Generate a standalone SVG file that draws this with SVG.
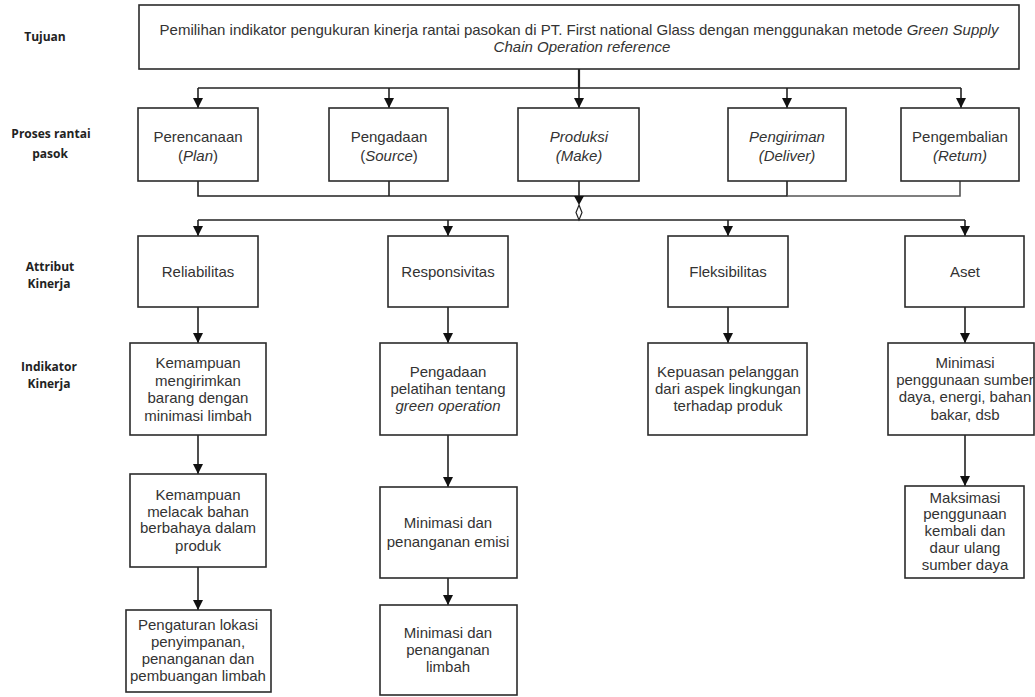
<svg xmlns="http://www.w3.org/2000/svg" width="1035" height="697" viewBox="0 0 1035 697">
<style>
.box{fill:#fff;stroke:#2b2b2b;stroke-width:1.6}
.t{font-family:"Liberation Sans",Arial,sans-serif;font-size:15px;fill:#333;text-anchor:middle}
.i{font-style:italic}
.lab{font-family:"Open Sans","DejaVu Sans",sans-serif;font-size:12px;font-weight:bold;fill:#222;text-anchor:middle}
.c{fill:none;stroke:#222;stroke-width:1.6}
</style>
<defs>
<marker id="ar" viewBox="0 0 10 10" refX="10" refY="5" markerWidth="10" markerHeight="10" markerUnits="userSpaceOnUse" orient="auto">
<path d="M0,0 L10,5 L0,10 Z" fill="#111"/>
</marker>
</defs>
<rect width="1035" height="697" fill="#fff"/>

<g id="labels">
<text class="lab" x="45" y="41">Tujuan</text>
<text class="lab" x="51" y="138">Proses rantai</text>
<text class="lab" x="50" y="158">pasok</text>
<text class="lab" x="50" y="271">Attribut</text>
<text class="lab" x="49" y="288">Kinerja</text>
<text class="lab" x="49" y="371">Indikator</text>
<text class="lab" x="49" y="388">Kinerja</text>
</g>

<g id="connectors">
<path class="c" d="M579,69 V88" style="stroke-width:2.2"/>
<path class="c" d="M198,88 H961"/>
<path class="c" d="M198,88 V108" marker-end="url(#ar)"/>
<path class="c" d="M389,88 V108" marker-end="url(#ar)"/>
<path class="c" d="M579,88 V108" marker-end="url(#ar)"/>
<path class="c" d="M787,88 V108" marker-end="url(#ar)"/>
<path class="c" d="M961,88 V108" marker-end="url(#ar)"/>
<path class="c" d="M198,181 V196 H579"/>
<path class="c" d="M389,181 V196"/>
<path class="c" d="M579,181 V196"/>
<path class="c" d="M787,181 V196 H579"/>
<path class="c" d="M960,181 V196 H787" style="stroke:#555"/>
<path d="M574,196 L584,196 L579,205 Z" fill="#111"/>
<path d="M579,205 L582,212.5 L579,220 L576,212.5 Z" fill="#fff" stroke="#222" stroke-width="1.2"/>
<path class="c" d="M198,220 H965"/>
<path class="c" d="M198,220 V236" marker-end="url(#ar)"/>
<path class="c" d="M448,220 V236" marker-end="url(#ar)"/>
<path class="c" d="M728,220 V236" marker-end="url(#ar)"/>
<path class="c" d="M965,220 V236" marker-end="url(#ar)"/>
<path class="c" d="M198,307 V343" marker-end="url(#ar)"/>
<path class="c" d="M448,307 V343" marker-end="url(#ar)"/>
<path class="c" d="M728,307 V343" marker-end="url(#ar)"/>
<path class="c" d="M965,307 V343" marker-end="url(#ar)"/>
<path class="c" d="M198,435 V474" marker-end="url(#ar)"/>
<path class="c" d="M198,567 V610" marker-end="url(#ar)"/>
<path class="c" d="M448,435 V487" marker-end="url(#ar)"/>
<path class="c" d="M448,578 V605" marker-end="url(#ar)"/>
<path class="c" d="M965,435 V486" marker-end="url(#ar)"/>
</g>

<g id="tujuan">
<rect class="box" x="139" y="5" width="880" height="64"/>
<text class="t" x="579" y="35">Pemilihan indikator pengukuran kinerja rantai pasokan di PT. First national Glass dengan menggunakan metode <tspan class="i">Green Supply</tspan></text>
<text class="t i" x="582" y="52">Chain Operation reference</text>
</g>

<g id="plan">
<rect class="box" x="138" y="108" width="120" height="73"/>
<text class="t" x="198" y="142">Perencanaan</text>
<text class="t" x="198" y="161">(<tspan class="i">Plan</tspan>)</text>
</g>
<g id="source">
<rect class="box" x="329" y="108" width="119" height="73"/>
<text class="t" x="389" y="142">Pengadaan</text>
<text class="t" x="389" y="161">(<tspan class="i">Source</tspan>)</text>
</g>
<g id="make">
<rect class="box" x="518" y="108" width="121" height="73"/>
<text class="t i" x="579" y="142">Produksi</text>
<text class="t i" x="579" y="161">(Make)</text>
</g>
<g id="deliver">
<rect class="box" x="728" y="108" width="118" height="73"/>
<text class="t i" x="787" y="142">Pengiriman</text>
<text class="t i" x="787" y="161">(Deliver)</text>
</g>
<g id="return">
<rect class="box" x="901" y="108" width="118" height="73"/>
<text class="t" x="960" y="142">Pengembalian</text>
<text class="t i" x="960" y="161">(Retum)</text>
</g>

<g id="reliabilitas">
<rect class="box" x="138" y="236" width="120" height="71"/>
<text class="t" x="198" y="277">Reliabilitas</text>
</g>
<g id="responsivitas">
<rect class="box" x="388" y="236" width="120" height="71"/>
<text class="t" x="448" y="277">Responsivitas</text>
</g>
<g id="fleksibilitas">
<rect class="box" x="668" y="236" width="120" height="71"/>
<text class="t" x="728" y="277">Fleksibilitas</text>
</g>
<g id="aset">
<rect class="box" x="905" y="236" width="119" height="71"/>
<text class="t" x="965" y="277">Aset</text>
</g>

<g id="ind-rel-1">
<rect class="box" x="130" y="343" width="136" height="92"/>
<text class="t" x="198" y="368">Kemampuan</text>
<text class="t" x="198" y="386">mengirimkan</text>
<text class="t" x="198" y="403">barang dengan</text>
<text class="t" x="198" y="421">minimasi limbah</text>
</g>
<g id="ind-rel-2">
<rect class="box" x="130" y="474" width="136" height="93"/>
<text class="t" x="198" y="500">Kemampuan</text>
<text class="t" x="198" y="517">melacak bahan</text>
<text class="t" x="198" y="533">berbahaya dalam</text>
<text class="t" x="198" y="551">produk</text>
</g>
<g id="ind-rel-3">
<rect class="box" x="126" y="610" width="145" height="82"/>
<text class="t" x="198" y="630">Pengaturan lokasi</text>
<text class="t" x="198" y="647">penyimpanan,</text>
<text class="t" x="198" y="664">penanganan dan</text>
<text class="t" x="198" y="681">pembuangan limbah</text>
</g>

<g id="ind-res-1">
<rect class="box" x="380" y="343" width="137" height="92"/>
<text class="t" x="448" y="377">Pengadaan</text>
<text class="t" x="448" y="394">pelatihan tentang</text>
<text class="t i" x="448" y="411">green operation</text>
</g>
<g id="ind-res-2">
<rect class="box" x="380" y="487" width="137" height="91"/>
<text class="t" x="448" y="528">Minimasi dan</text>
<text class="t" x="448" y="547">penanganan emisi</text>
</g>
<g id="ind-res-3">
<rect class="box" x="380" y="605" width="137" height="90"/>
<text class="t" x="448" y="638">Minimasi dan</text>
<text class="t" x="448" y="655">penanganan</text>
<text class="t" x="448" y="672">limbah</text>
</g>

<g id="ind-flex-1">
<rect class="box" x="648" y="343" width="159" height="92"/>
<text class="t" x="728" y="377">Kepuasan pelanggan</text>
<text class="t" x="728" y="394">dari aspek lingkungan</text>
<text class="t" x="728" y="411">terhadap produk</text>
</g>

<g id="ind-aset-1">
<rect class="box" x="888" y="343" width="146" height="92"/>
<text class="t" x="965" y="368">Minimasi</text>
<text class="t" x="965" y="385">penggunaan sumber</text>
<text class="t" x="965" y="402">daya, energi, bahan</text>
<text class="t" x="965" y="420">bakar, dsb</text>
</g>
<g id="ind-aset-2">
<rect class="box" x="905" y="486" width="119" height="92"/>
<text class="t" x="965" y="503">Maksimasi</text>
<text class="t" x="965" y="519">penggunaan</text>
<text class="t" x="965" y="536">kembali dan</text>
<text class="t" x="965" y="553">daur ulang</text>
<text class="t" x="965" y="570">sumber daya</text>
</g>
</svg>
